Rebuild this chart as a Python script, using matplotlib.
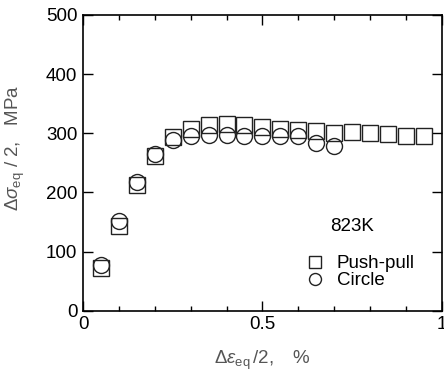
import numpy as np
import matplotlib
matplotlib.use("Agg")
import matplotlib.pyplot as plt
from matplotlib.ticker import MultipleLocator

plt.rcParams['font.family'] = ['Liberation Sans', 'DejaVu Sans']
plt.rcParams['mathtext.fontset'] = 'custom'
plt.rcParams['mathtext.rm'] = 'Liberation Sans'
plt.rcParams['mathtext.it'] = 'Liberation Sans:italic'

# push-pull
x_pp = [0.05, 0.10, 0.15, 0.20, 0.25, 0.30, 0.35, 0.40, 0.45, 0.50,
        0.55, 0.60, 0.65, 0.70, 0.75, 0.80, 0.85, 0.90, 0.95]
y_pp = [72, 143, 212, 262, 293, 307, 314, 316, 314, 311,
        308, 306, 304, 300, 302, 300, 298, 296, 296]

# circle
x_ci = [0.05, 0.10, 0.15, 0.20, 0.25, 0.30, 0.35, 0.40, 0.45, 0.50,
        0.55, 0.60, 0.65, 0.70]
y_ci = [77, 152, 217, 265, 288, 296, 297, 297, 296, 296,
        296, 296, 284, 278]

fig = plt.figure(figsize=(4.44, 3.71), dpi=100)
ax = fig.add_axes([0.187, 0.162, 0.808, 0.798])

ax.plot(x_pp, y_pp, 's', ms=12, mfc='none', mec='#222222', mew=1.0, label='Push-pull')
ax.plot(x_ci, y_ci, 'o', ms=11.5, mfc='none', mec='#222222', mew=1.0, label='Circle')

ax.set_xlim(0, 1)
ax.set_ylim(0, 500)
ax.xaxis.set_minor_locator(MultipleLocator(0.1))
ax.yaxis.set_major_locator(MultipleLocator(100))
ax.set_xticks([0, 0.5, 1])
ax.set_xticklabels(['0', '0.5', '1'])
ax.tick_params(which='both', direction='in', top=True, right=True, labelsize=13.5, colors='black')
ax.tick_params(which='major', length=7, width=1, pad=4)
ax.tick_params(which='minor', length=3.5, width=1)
for s in ax.spines.values():
    s.set_linewidth(1.2)

ax.set_xlabel(r'$\Delta\varepsilon_{\rm eq}\,/2,$   %', fontsize=13.5, color='#555555', labelpad=11)
ax.set_ylabel(r'$\Delta\sigma_{\rm eq}$ / 2,   MPa', fontsize=13.5, color='#555555', labelpad=10)
ax.yaxis.set_label_coords(-0.155, 0.55)

ax.text(0.688, 142, '823K', fontsize=13.5, va='center', ha='left')
ax.legend(loc='upper left', bbox_to_anchor=(0.6, 0.22), frameon=False, fontsize=13.5,
          markerscale=0.75, handlelength=0.8, handletextpad=0.75, labelspacing=0.0, borderpad=0)

fig.savefig('out.png', dpi=100)
